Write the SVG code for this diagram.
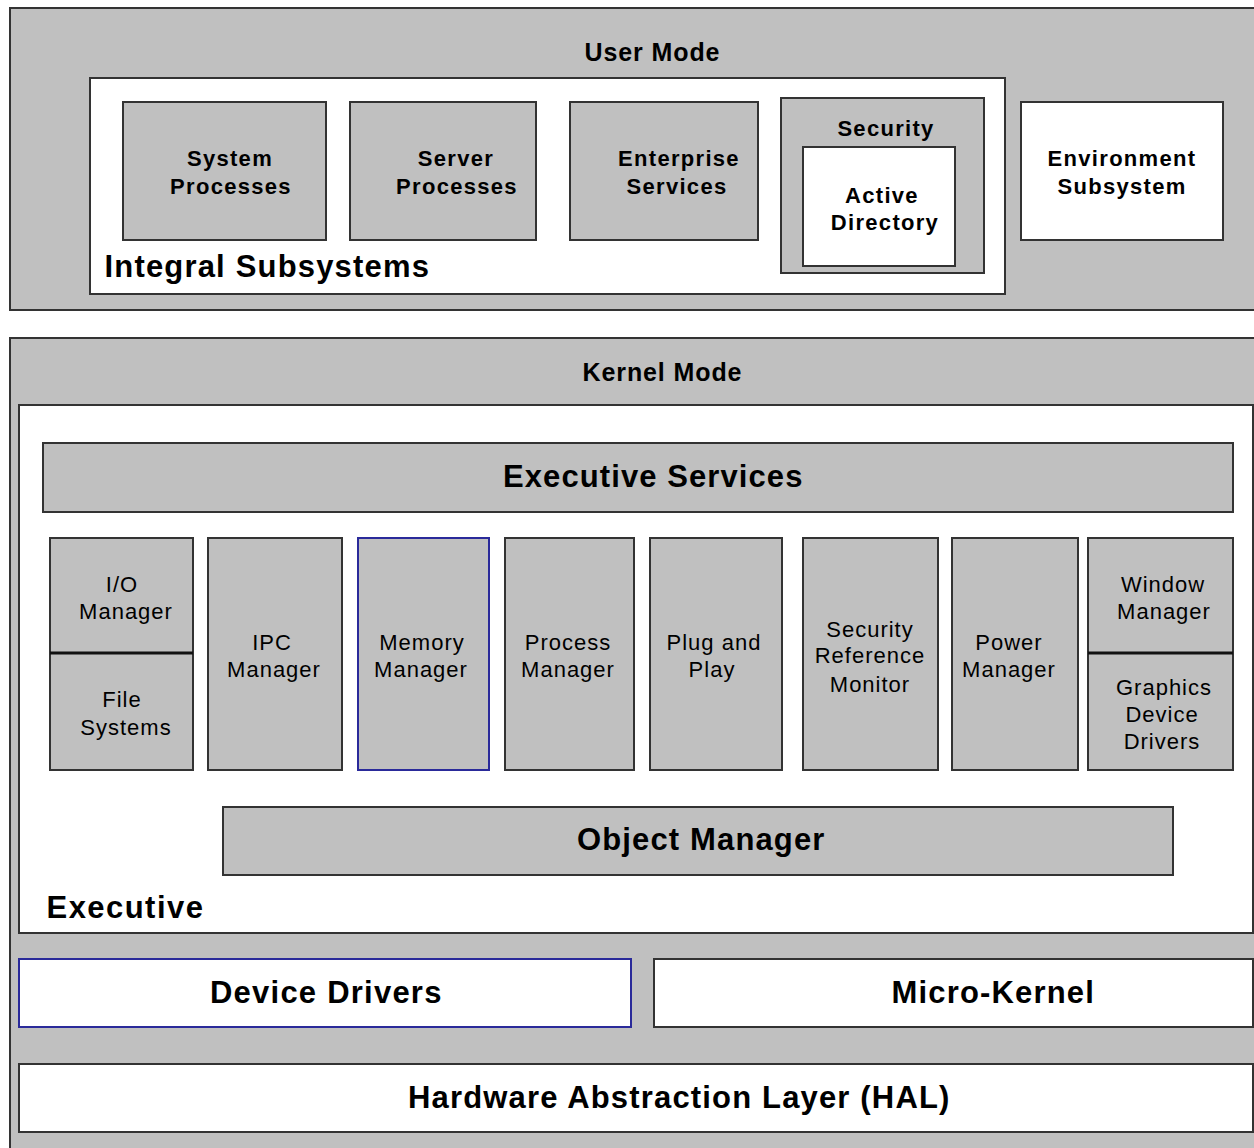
<svg xmlns="http://www.w3.org/2000/svg" width="1254" height="1148" viewBox="0 0 1254 1148">
<style>
.band{fill:#c0c0c0;stroke:#333;stroke-width:2}
.wbox{fill:#fff;stroke:#333;stroke-width:2}
.gbox{fill:#c0c0c0;stroke:#333;stroke-width:2}
.blue{stroke:#2a2a9a}
.div{stroke:#111;stroke-width:3}
text{font-family:"Liberation Sans",Arial,sans-serif;fill:#000;text-anchor:middle}
.h{font-weight:bold;font-size:25px}
.b{font-weight:bold;font-size:22px;letter-spacing:1.3px}
.n{font-size:22px;letter-spacing:1px}
.big{font-weight:bold;font-size:31px;letter-spacing:0.6px}
</style>
<rect width="1254" height="1148" fill="#fff"/>
<g id="user-mode">
<rect class="band" x="10" y="8" width="1260" height="302"/>
<text class="h" x="652" y="61" textLength="135" lengthAdjust="spacing">User Mode</text>
</g>
<g id="integral-subsystems">
<rect class="wbox" x="90" y="78" width="915" height="216"/>
<text class="big" x="267" y="277" textLength="325" lengthAdjust="spacing">Integral Subsystems</text>
</g>
<g id="system-processes">
<rect class="gbox" x="123" y="102" width="203" height="138"/>
<text class="b" x="230" y="166">System</text>
<text class="b" x="231" y="194">Processes</text>
</g>
<g id="server-processes">
<rect class="gbox" x="350" y="102" width="186" height="138"/>
<text class="b" x="456" y="166">Server</text>
<text class="b" x="457" y="194">Processes</text>
</g>
<g id="enterprise-services">
<rect class="gbox" x="570" y="102" width="188" height="138"/>
<text class="b" x="679" y="166">Enterprise</text>
<text class="b" x="677" y="194">Services</text>
</g>
<g id="security">
<rect class="gbox" x="781" y="98" width="203" height="175"/>
<text class="b" x="886" y="136">Security</text>
</g>
<g id="active-directory">
<rect class="wbox" x="803" y="147" width="152" height="119"/>
<text class="b" x="882" y="203">Active</text>
<text class="b" x="885" y="230">Directory</text>
</g>
<g id="environment-subsystem">
<rect class="wbox" x="1021" y="102" width="202" height="138"/>
<text class="b" x="1122" y="166">Environment</text>
<text class="b" x="1122" y="194">Subsystem</text>
</g>
<g id="kernel-mode">
<rect class="band" x="10" y="338" width="1260" height="820"/>
<text class="h" x="662" y="381" textLength="159" lengthAdjust="spacing">Kernel Mode</text>
</g>
<g id="executive">
<rect class="wbox" x="19" y="405" width="1234" height="528"/>
<text class="big" x="125" y="918" textLength="157" lengthAdjust="spacing">Executive</text>
</g>
<g id="executive-services">
<rect class="gbox" x="43" y="443" width="1190" height="69"/>
<text class="big" x="653" y="487" textLength="300" lengthAdjust="spacing">Executive Services</text>
</g>
<g id="io-manager">
<rect class="gbox" x="50" y="538" width="143" height="232"/>
<line class="div" x1="50" y1="653" x2="193" y2="653"/>
<text class="n" x="122" y="592">I/O</text>
<text class="n" x="126" y="619">Manager</text>
<text class="n" x="122" y="707">File</text>
<text class="n" x="126" y="735">Systems</text>
</g>
<g id="ipc-manager">
<rect class="gbox" x="208" y="538" width="134" height="232"/>
<text class="n" x="272" y="650">IPC</text>
<text class="n" x="274" y="677">Manager</text>
</g>
<g id="memory-manager">
<rect class="gbox blue" x="358" y="538" width="131" height="232"/>
<text class="n" x="422" y="650">Memory</text>
<text class="n" x="421" y="677">Manager</text>
</g>
<g id="process-manager">
<rect class="gbox" x="505" y="538" width="129" height="232"/>
<text class="n" x="568" y="650">Process</text>
<text class="n" x="568" y="677">Manager</text>
</g>
<g id="plug-and-play">
<rect class="gbox" x="650" y="538" width="132" height="232"/>
<text class="n" x="714" y="650">Plug and</text>
<text class="n" x="712" y="677">Play</text>
</g>
<g id="security-reference-monitor">
<rect class="gbox" x="803" y="538" width="135" height="232"/>
<text class="n" x="870" y="637">Security</text>
<text class="n" x="870" y="663">Reference</text>
<text class="n" x="870" y="692">Monitor</text>
</g>
<g id="power-manager">
<rect class="gbox" x="952" y="538" width="126" height="232"/>
<text class="n" x="1009" y="650">Power</text>
<text class="n" x="1009" y="677">Manager</text>
</g>
<g id="window-manager">
<rect class="gbox" x="1088" y="538" width="145" height="232"/>
<line class="div" x1="1088" y1="653" x2="1233" y2="653"/>
<text class="n" x="1163" y="592">Window</text>
<text class="n" x="1164" y="619">Manager</text>
<text class="n" x="1164" y="695">Graphics</text>
<text class="n" x="1162" y="722">Device</text>
<text class="n" x="1162" y="749">Drivers</text>
</g>
<g id="object-manager">
<rect class="gbox" x="223" y="807" width="950" height="68"/>
<text class="big" x="701" y="850" textLength="248" lengthAdjust="spacing">Object Manager</text>
</g>
<g id="device-drivers">
<rect class="wbox blue" x="19" y="959" width="612" height="68"/>
<text class="big" x="326" y="1003" textLength="232" lengthAdjust="spacing">Device Drivers</text>
</g>
<g id="micro-kernel">
<rect class="wbox" x="654" y="959" width="599" height="68"/>
<text class="big" x="993" y="1003" textLength="203" lengthAdjust="spacing">Micro-Kernel</text>
</g>
<g id="hal">
<rect class="wbox" x="19" y="1064" width="1234" height="68"/>
<text class="big" x="679" y="1108" textLength="542" lengthAdjust="spacing">Hardware Abstraction Layer (HAL)</text>
</g>
<g id="connectors"></g>
</svg>
